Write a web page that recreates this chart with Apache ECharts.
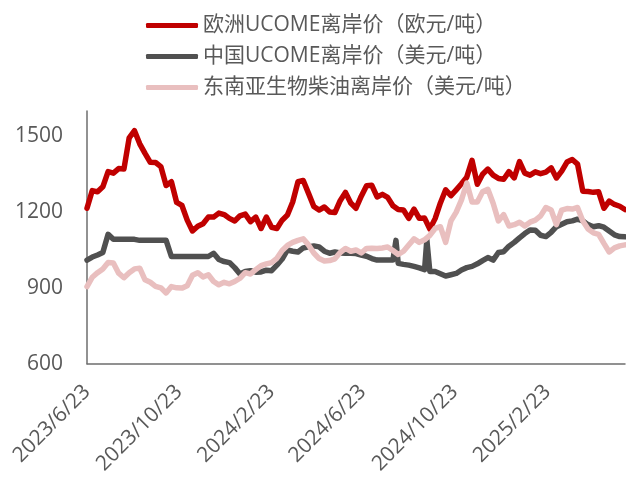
<!DOCTYPE html>
<html><head><meta charset="utf-8">
<script src="https://cdn.jsdelivr.net/npm/echarts@6/dist/echarts.min.js"></script>
<style>html,body{margin:0;padding:0;background:#fff}#c{width:626px;height:477px}</style>
</head><body><div id="c"></div>
<script>
// ---- data ----
const startDate = '2023-06-23';
const endDate = '2025-06-06';
const stepDays = 7; // values below are weekly readings starting at startDate
const tickLabels = ['2023/6/23', '2023/10/23', '2024/2/23', '2024/6/23', '2024/10/23', '2025/2/23'];
const seriesNames = ['欧洲UCOME离岸价（欧元/吨）', '中国UCOME离岸价（美元/吨）', '东南亚生物柴油离岸价（美元/吨）'];
const europe = [1215,1285,1280,1300,1360,1354,1372,1370,1494,1522,
  1470,1432,1397,1396,1380,1305,1320,1238,1226,1168,
  1125,1144,1154,1180,1180,1196,1190,1175,1165,1185,
  1192,1162,1180,1135,1180,1140,1135,1168,1188,1240,
  1320,1325,1274,1222,1208,1220,1200,1198,1245,1278,
  1236,1215,1263,1304,1306,1260,1270,1258,1225,1210,
  1208,1175,1212,1175,1176,1133,1174,1236,1288,1265,
  1288,1312,1338,1405,1310,1350,1370,1346,1333,1330,
  1360,1335,1400,1354,1346,1359,1352,1358,1375,1335,
  1362,1398,1408,1390,1282,1281,1278,1280,1215,1243,
  1230,1223,1210];
const china = [1010,1022,1030,1040,1112,1092,1092,1092,1092,1092,
  1088,1088,1088,1088,1088,1088,1024,1024,1024,1024,
  1024,1024,1024,1024,1037,1012,1004,1000,980,955,
  965,968,962,963,970,968,990,1014,1050,1045,
  1042,1058,1062,1066,1062,1045,1037,1042,1038,1037,
  1037,1036,1030,1025,1016,1010,1010,1010,1010,997,
  993,990,985,979,972,965,965,956,947,952,
  957,971,980,985,995,1008,1020,1010,1040,1043,
  1065,1080,1098,1115,1129,1128,1108,1103,1120,1142,
  1152,1162,1165,1172,1165,1150,1142,1146,1140,1125,
  1110,1103,1102];
const chinaSpikes = [['2024/8/6', 1088], ['2024/9/16', 1090]];
const sea = [905,942,960,975,1000,998,958,940,960,975,
  978,932,922,906,900,880,905,900,899,908,
  950,960,943,952,925,912,922,916,925,938,
  960,955,972,988,995,1000,1017,1048,1068,1080,
  1088,1094,1070,1038,1016,1006,1008,1015,1040,1056,
  1045,1050,1038,1056,1057,1056,1058,1062,1048,1032,
  1045,1070,1094,1080,1090,1108,1135,1142,1080,1165,
  1200,1248,1315,1240,1240,1280,1290,1235,1165,1190,
  1145,1150,1160,1145,1160,1168,1185,1218,1208,1150,
  1208,1214,1212,1218,1165,1133,1118,1112,1076,1042,
  1058,1066,1070];

// ---- build ----
function fmt(d) { return d.getUTCFullYear() + '/' + (d.getUTCMonth() + 1) + '/' + d.getUTCDate(); }
const s0 = new Date(startDate + 'T00:00:00Z'), e0 = new Date(endDate + 'T00:00:00Z');
const categories = [];
for (let t = s0.getTime(); t <= e0.getTime(); t += 86400000) categories.push(fmt(new Date(t)));
function build(vals, extra) {
  const arr = new Array(categories.length).fill(null);
  vals.forEach((v, i) => { const idx = i * stepDays; if (idx < arr.length) arr[idx] = v; });
  (extra || []).forEach(([d, v]) => { const idx = categories.indexOf(d); if (idx >= 0) arr[idx] = v; });
  return arr;
}
const FONT = "'Open Sans','Noto Sans CJK SC',sans-serif";
const TXT = '#595959';
const colors = ['#C00000', '#505050', '#E9BFBF'];
const chart = echarts.init(document.getElementById('c'), null, { renderer: 'canvas' });
function line(name, data, color) {
  return { name, type: 'line', data, connectNulls: true, showSymbol: false, symbol: 'none',
    smooth: false, sampling: null, color,
    lineStyle: { color, width: 5.5, cap: 'round', join: 'round' } };
}
chart.setOption({
  animation: false,
  backgroundColor: '#fff',
  grid: { left: 87, right: 1, top: 111, bottom: 112, containLabel: false },
  legend: {
    data: seriesNames, orient: 'vertical', left: 141, top: 9,
    itemWidth: 52, itemHeight: 5, itemGap: 8, icon: 'roundRect',
    textStyle: { fontSize: 21, color: TXT, fontFamily: FONT, lineHeight: 23 }
  },
  xAxis: {
    type: 'category', data: categories, boundaryGap: false,
    axisLine: { lineStyle: { color: '#6e6e6e', width: 1.5 } },
    axisTick: { show: false },
    splitLine: { show: false },
    axisLabel: {
      interval: (i, v) => tickLabels.indexOf(v) >= 0,
      rotate: 45, fontSize: 21, color: TXT, fontFamily: FONT, margin: 25
    }
  },
  yAxis: {
    type: 'value', min: 600, max: 1600, interval: 300,
    axisLine: { show: true, lineStyle: { color: '#6e6e6e', width: 1.5 } },
    axisTick: { show: false },
    splitLine: { show: false },
    axisLabel: { showMaxLabel: false, fontSize: 21, color: TXT, fontFamily: FONT, margin: 24,
      formatter: v => String(v) }
  },
  series: [
    line(seriesNames[0], build(europe), colors[0]),
    line(seriesNames[1], build(china, chinaSpikes), colors[1]),
    line(seriesNames[2], build(sea), colors[2])
  ]
});
</script></body></html>
